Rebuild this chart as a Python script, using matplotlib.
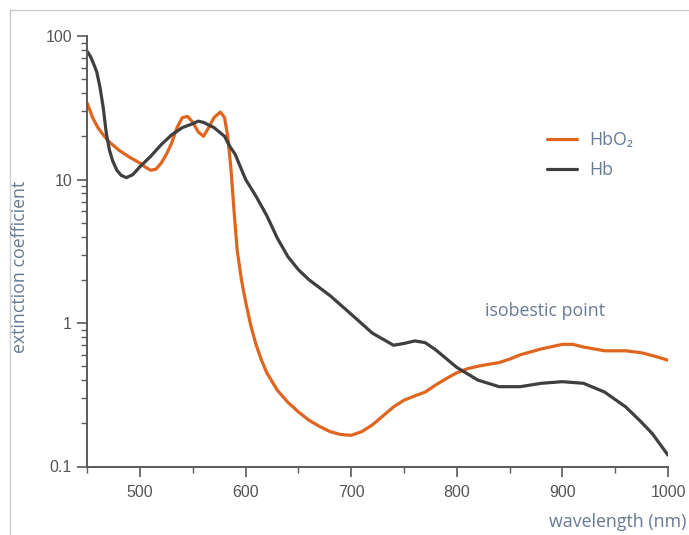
import matplotlib
matplotlib.use("Agg")
import matplotlib.pyplot as plt
from matplotlib.lines import Line2D
from matplotlib.ticker import FixedLocator, FixedFormatter, LogLocator, NullFormatter, MultipleLocator

# ---- data ----
hbo2_wl = [450, 455, 460, 465, 470, 480, 490, 500, 505, 510, 515, 520, 525, 530, 535, 540, 545,
           550, 555, 560, 565, 570, 576, 580, 583, 586, 589, 592, 596, 600, 605, 610, 615,
           620, 630, 640, 650, 660, 670, 680, 690, 700, 710, 720, 730, 740, 750, 760, 770,
           780, 790, 800, 810, 820, 840, 850, 860, 880, 900, 910, 920, 940, 960, 975, 990, 1000]
hbo2_val = [34, 27, 23, 20.5, 18.5, 16, 14.3, 13, 12.2, 11.6, 11.8, 13, 15, 18, 23, 27, 27.5,
            25, 21.5, 20, 23, 27, 29.5, 27, 20, 12, 6, 3.2, 2.0, 1.4, 0.95, 0.7, 0.55,
            0.45, 0.34, 0.28, 0.24, 0.21, 0.19, 0.175, 0.167, 0.165, 0.175, 0.195, 0.225, 0.26, 0.29, 0.31, 0.33,
            0.37, 0.41, 0.45, 0.48, 0.50, 0.53, 0.56, 0.60, 0.66, 0.71, 0.71, 0.68, 0.64, 0.64, 0.62, 0.58, 0.55]

hb_wl = [450, 453, 456, 459, 462, 465, 468, 471, 474, 478, 482, 487, 493, 500, 510, 520, 530,
         540, 550, 555, 560, 570, 580, 585, 590, 600, 610, 620, 630, 640, 650, 660, 680, 700,
         720, 740, 750, 760, 770, 780, 800, 820, 840, 860, 880, 900, 920, 940, 960, 973, 985, 1000]
hb_val = [78, 72, 64, 56, 44, 32, 21, 16, 13.5, 11.6, 10.7, 10.3, 10.8, 12.3, 14.5, 17.5, 20.5,
          23, 24.5, 25.5, 25, 23, 20, 17, 15, 10, 7.6, 5.6, 3.9, 2.9, 2.35, 2.0, 1.55, 1.15,
          0.85, 0.70, 0.72, 0.75, 0.73, 0.65, 0.49, 0.40, 0.36, 0.36, 0.38, 0.39, 0.38, 0.33,
          0.26, 0.21, 0.17, 0.12]

x_ticks = [500, 600, 700, 800, 900, 1000]
y_ticks = [0.1, 1, 10, 100]
y_tick_labels = ["0.1", "1", "10", "100"]

ORANGE = "#e0651e"
DARK = "#3f3f3f"
AXIS = "#5a5a5a"
LABEL = "#667a94"

fig = plt.figure(figsize=(6.89, 5.35), dpi=100)
ax = fig.add_axes([87.3 / 689, 1 - 466.5 / 535, (668 - 87.3) / 689, (466.5 - 36) / 535])

ax.plot(hbo2_wl, hbo2_val, color=ORANGE, lw=2.3, solid_capstyle="round", label="HbO₂")
ax.plot(hb_wl, hb_val, color=DARK, lw=2.3, solid_capstyle="round", label="Hb")

ax.set_yscale("log")
ax.set_xlim(450, 1000)
ax.set_ylim(0.1, 100)

for s in ("top", "right"):
    ax.spines[s].set_visible(False)
for s in ("left", "bottom"):
    ax.spines[s].set_color(AXIS)
    ax.spines[s].set_linewidth(1.4)

ax.xaxis.set_major_locator(FixedLocator(x_ticks))
ax.xaxis.set_minor_locator(MultipleLocator(50))
ax.yaxis.set_major_locator(FixedLocator(y_ticks))
ax.yaxis.set_major_formatter(FixedFormatter(y_tick_labels))
ax.yaxis.set_minor_locator(LogLocator(base=10, subs=range(2, 10)))
ax.yaxis.set_minor_formatter(NullFormatter())

ax.tick_params(axis="both", which="major", direction="out", length=7, width=1.2,
               color=AXIS, labelcolor="#555555", labelsize=11.5)
ax.tick_params(axis="both", which="minor", direction="out", length=4, width=1.0, color=AXIS)
ax.tick_params(axis="x", which="major", pad=6)
ax.tick_params(axis="y", which="major", pad=4)
for lab in ax.get_xticklabels() + ax.get_yticklabels():
    lab.set_family("Liberation Sans")

fam = ["Open Sans", "DejaVu Sans"]
FS = 12.8
fig.text(20 / 689, 1 - 267 / 535, "extinction coefficient", rotation=90, ha="center", va="center",
         color=LABEL, fontsize=FS, family=fam)
fig.text(686 / 689, 1 - 522 / 535, "wavelength (nm)", ha="right", va="center",
         color=LABEL, fontsize=FS, family=fam)
fig.text(545 / 689, 1 - 311 / 535, "isobestic point", ha="center", va="center",
         color=LABEL, fontsize=FS, family=fam)

leg = ax.legend(loc="upper left", bbox_to_anchor=(533 / 689, 1 - 117 / 535),
                bbox_transform=fig.transFigure, frameon=False, handlelength=1.65,
                handletextpad=0.7, labelspacing=0.65, borderpad=0.3,
                prop={"family": fam, "size": FS})
for t in leg.get_texts():
    t.set_color(LABEL)

# light frame lines around the picture
fig.add_artist(Line2D([10 / 689, 1], [1 - 10 / 535, 1 - 10 / 535], transform=fig.transFigure,
                      color="#cccccc", lw=1))
fig.add_artist(Line2D([10 / 689, 10 / 689], [0, 1 - 10 / 535], transform=fig.transFigure,
                      color="#cccccc", lw=1))

fig.savefig("out.png", dpi=100)
